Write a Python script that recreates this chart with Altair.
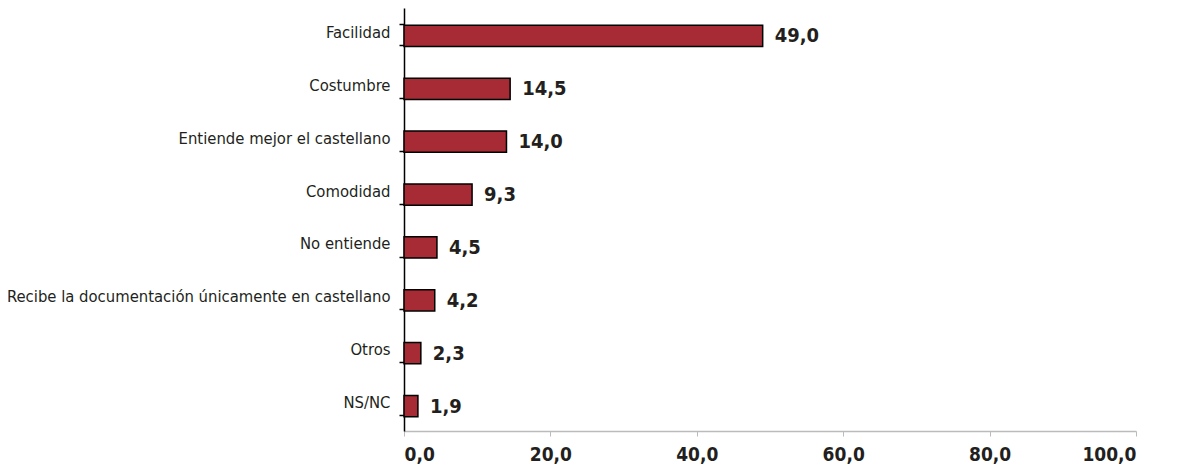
import altair as alt
import pandas as pd

categories = ["Facilidad", "Costumbre", "Entiende mejor el castellano", "Comodidad",
              "No entiende", "Recibe la documentación únicamente en castellano",
              "Otros", "NS/NC"]
values = [49.0, 14.5, 14.0, 9.3, 4.5, 4.2, 2.3, 1.9]
x_ticks = [0, 20, 40, 60, 80, 100]

df = pd.DataFrame({"cat": categories, "v": values})

FONT = "'DejaVu Sans Condensed', 'Roboto Condensed', 'Liberation Sans Narrow', sans-serif"
TXT = "#231f20"

y_enc = alt.Y("cat:N", sort=categories, title=None,
              scale=alt.Scale(paddingInner=0.6, paddingOuter=0.3),
              axis=alt.Axis(domainColor="black", domainWidth=1.5, tickColor="black",
                            tickWidth=1.5, tickSize=5, tickBand="extent",
                            labelFont=FONT, labelFontSize=16.5, labelColor=TXT,
                            labelPadding=9, labelLimit=500, labelOffset=-2))
x_enc = alt.X("v:Q", title=None,
              scale=alt.Scale(domain=[0, 100], nice=False),
              axis=alt.Axis(values=x_ticks, grid=False, domainColor="#bbbbbb",
                            domainWidth=1.5, tickColor="#bbbbbb", tickSize=5,
                            labelFont=FONT, labelFontSize=19, labelFontWeight="bold",
                            labelColor=TXT, labelPadding=9,
                            labelExpr="replace(format(datum.value, '.1f'), '.', ',')"))

bars = alt.Chart(df).mark_bar(color="#a62b35", stroke="black", strokeWidth=1.5,
                              yOffset=1.5).encode(x=x_enc, y=y_enc)

labels = alt.Chart(df).transform_calculate(
    lab="replace(format(datum.v, '.1f'), '.', ',')"
).mark_text(align="left", baseline="middle", dx=12, dy=2, font=FONT, fontSize=20,
            fontWeight="bold", color=TXT).encode(
    x=alt.X("v:Q"), y=alt.Y("cat:N", sort=categories), text="lab:N")

chart = alt.layer(bars, labels).properties(
    width=732, height=423,
    background="white",
    autosize=alt.AutoSizeParams(type="none"),
    padding={"left": 396, "top": 0, "right": 36, "bottom": 38},
).configure_view(stroke=None)

chart.save("out.html", embed_options={"renderer": "svg", "actions": False})
